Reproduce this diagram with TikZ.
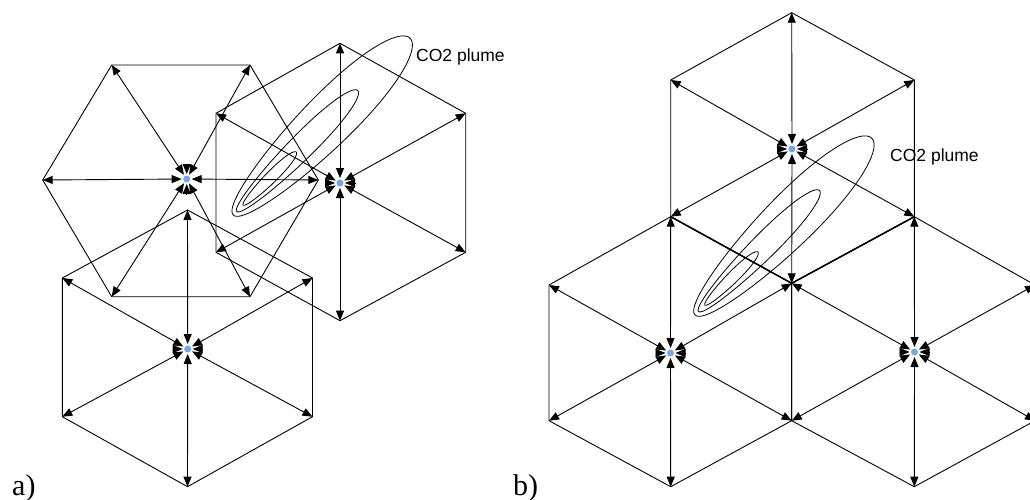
\documentclass[tikz,border=0pt]{standalone}
\usepackage{fontspec}
\setmainfont{Liberation Serif}
\newfontfamily\arialfont{Liberation Sans}
\usetikzlibrary{arrows.meta,calc}
\definecolor{wellblue}{RGB}{110,170,235}
\begin{document}
\begin{tikzpicture}[x=1pt,y=-1pt,
  hexedge/.style={line width=0.9pt, line join=miter},
  thickedge/.style={line width=1.5pt},
  ray/.style={line width=0.9pt, {Triangle[length=10pt,width=8pt]}-{Triangle[length=10pt,width=8pt]}},
  stub/.style={line width=0.9pt, -{Triangle[length=10pt,width=8pt]}},
  well/.style={circle, fill=wellblue, inner sep=0pt, minimum size=7pt, outer sep=1.5pt},
  plume/.style={line width=0.8pt},
  lbl/.style={font=\arialfont\fontsize{17.5}{20}\selectfont, inner sep=0pt, anchor=west},
  panel/.style={font=\fontsize{30}{32}\selectfont, inner sep=0pt, anchor=base west}
]
\useasboundingbox (0,0) rectangle (1030,500);

% ---------- plume macro ----------
\newcommand\drawplume[1]{%
  \begin{scope}[shift={#1}, rotate=45]
    \draw[plume] plot[domain=0:360,samples=120,smooth,variable=\t]
      ({125*(1-cos(\t))}, {29*sin(\t)*(0.75+0.25*(1-cos(\t))/2)});
    \draw[plume] plot[domain=0:360,samples=120,smooth,variable=\t]
      ({5+85.5*(1-cos(\t))}, {14*sin(\t)*(0.75+0.25*(1-cos(\t))/2)});
    \draw[plume] plot[domain=0:360,samples=120,smooth,variable=\t]
      ({14+37.5*(1-cos(\t))}, {6.5*sin(\t)*(0.75+0.25*(1-cos(\t))/2)});
  \end{scope}}

% ================= panel a =================
% A1 (flat top)
\node[well] (a1c) at (186.7,179) {};
\coordinate (a1l)  at (42.7,180);
\coordinate (a1tl) at (111.7,65);
\coordinate (a1tr) at (250,65);
\coordinate (a1r)  at (318.3,180);
\coordinate (a1br) at (250,296.7);
\coordinate (a1bl) at (111.7,296.7);
\draw[hexedge] (a1l) -- (a1tl) -- (a1tr) -- (a1r) -- (a1br) -- (a1bl) -- cycle;
\foreach \v in {a1l,a1tl,a1tr,a1r,a1br,a1bl} \draw[ray] (a1c) -- (\v);
\path (a1c) ++(0,-15) coordinate (a1su) (a1c) ++(0,15) coordinate (a1sd);
\draw[stub] (a1su) -- (a1c); \draw[stub] (a1sd) -- (a1c);

% A2 (pointy top)
\node[well] (a2c) at (340,183) {};
\coordinate (a2t)  at (340,43.3);
\coordinate (a2ur) at (465.7,113.3);
\coordinate (a2lr) at (465.7,252.3);
\coordinate (a2b)  at (340,320.7);
\coordinate (a2ll) at (216,252.3);
\coordinate (a2ul) at (216,113.3);
\draw[hexedge] (a2t) -- (a2ur) -- (a2lr) -- (a2b) -- (a2ll) -- (a2ul) -- cycle;
\foreach \v in {a2t,a2ur,a2lr,a2b,a2ll,a2ul} \draw[ray] (a2c) -- (\v);
\path (a2c) ++(-15,0) coordinate (a2sl) (a2c) ++(15,0) coordinate (a2sr);
\draw[stub] (a2sl) -- (a2c); \draw[stub] (a2sr) -- (a2c);

% A3 (pointy top)
\node[well] (a3c) at (187.7,349) {};
\coordinate (a3t)  at (187.5,210);
\coordinate (a3ur) at (312.5,278);
\coordinate (a3lr) at (312.5,416.7);
\coordinate (a3b)  at (187.5,486.7);
\coordinate (a3ll) at (62.3,416.7);
\coordinate (a3ul) at (62.3,278);
\draw[hexedge] (a3t) -- (a3ur) -- (a3lr) -- (a3b) -- (a3ll) -- (a3ul) -- cycle;
\foreach \v in {a3t,a3ur,a3lr,a3b,a3ll,a3ul} \draw[ray] (a3c) -- (\v);
\path (a3c) ++(-15,0) coordinate (a3sl) (a3c) ++(15,0) coordinate (a3sr);
\draw[stub] (a3sl) -- (a3c); \draw[stub] (a3sr) -- (a3c);

\drawplume{(233.3,215)}
\node[lbl] (pla) at (416,57) {CO2 plume};
\node[panel] (laba) at (12,495) {a)};

% ================= panel b =================
% B1 (top)
\node[well] (b1c) at (792,149) {};
\coordinate (b1t)  at (791.7,12.7);
\coordinate (b1ur) at (914.3,80);
\coordinate (b1lr) at (914.3,216.7);
\coordinate (b1b)  at (791.7,283.3);
\coordinate (b1ll) at (670.7,216.7);
\coordinate (b1ul) at (670.7,80);
\draw[hexedge] (b1t) -- (b1ur) -- (b1lr) -- (b1b) -- (b1ll) -- (b1ul) -- cycle;
\foreach \v in {b1t,b1ur,b1lr,b1b,b1ll,b1ul} \draw[ray] (b1c) -- (\v);
\path (b1c) ++(-15,0) coordinate (b1sl) (b1c) ++(15,0) coordinate (b1sr);
\draw[stub] (b1sl) -- (b1c); \draw[stub] (b1sr) -- (b1c);

% B2 (bottom left)
\node[well] (b2c) at (670.5,353) {};
\coordinate (b2ul) at (549,285);
\coordinate (b2lr) at (791.7,420.7);
\coordinate (b2b)  at (670.7,486.7);
\coordinate (b2ll) at (549,420.7);
\draw[hexedge] (b1ll) -- (b1b) -- (b2lr) -- (b2b) -- (b2ll) -- (b2ul) -- cycle;
\foreach \v in {b1ll,b1b,b2lr,b2b,b2ll,b2ul} \draw[ray] (b2c) -- (\v);
\path (b2c) ++(-15,0) coordinate (b2sl) (b2c) ++(15,0) coordinate (b2sr);
\draw[stub] (b2sl) -- (b2c); \draw[stub] (b2sr) -- (b2c);

% B3 (bottom right)
\node[well] (b3c) at (914.5,352) {};
\coordinate (b3ur) at (1035,285);
\coordinate (b3lr) at (1035,420.7);
\coordinate (b3b)  at (914.3,486.7);
\draw[hexedge] (b1lr) -- (b3ur) -- (b3lr) -- (b3b) -- (b2lr) -- (b1b) -- cycle;
\foreach \v in {b1lr,b3ur,b3lr,b3b,b2lr,b1b} \draw[ray] (b3c) -- (\v);
\path (b3c) ++(-15,0) coordinate (b3sl) (b3c) ++(15,0) coordinate (b3sr);
\draw[stub] (b3sl) -- (b3c); \draw[stub] (b3sr) -- (b3c);

% shared (darker) edges
\draw[thickedge] (b1ll) -- (b1b) -- (b1lr);
\draw[line width=1.2pt] (b1b) -- (b2lr);

\drawplume{(695,315)}
\node[lbl] (plb) at (890,157) {CO2 plume};
\node[panel] (labb) at (513,495) {b)};
\end{tikzpicture}
\end{document}
